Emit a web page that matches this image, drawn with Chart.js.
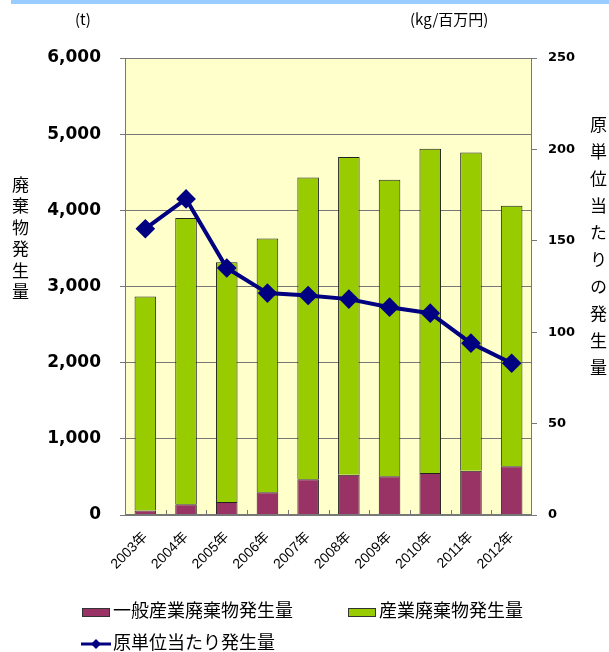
<!DOCTYPE html>
<html lang="ja">
<head>
<meta charset="utf-8">
<script src="https://cdn.jsdelivr.net/npm/chart.js@4/dist/chart.umd.min.js"></script>
<style>
  body { margin: 0; background: #fff; }
  #wrap { position: relative; width: 609px; height: 652px; font-family: "Noto Sans CJK JP", sans-serif; color: #000; }
  #chart { position: absolute; left: 0; top: 0; }
  .band { position: absolute; left: 11px; top: 0; width: 598px; height: 4px; background: #99ccff; }
  .unit { position: absolute; top: 9px; font-size: 15px; line-height: 20px; }
  .vtitle { position: absolute; writing-mode: vertical-rl; font-size: 17px; line-height: 17px; }
  .legend { position: absolute; font-size: 18px; line-height: 20px; white-space: nowrap; }
  .legend span.box { display: inline-block; width: 26px; height: 7px; border: 1px solid #333; vertical-align: middle; margin-right: 3px; }
  .legend canvas { vertical-align: middle; margin-right: 1px; }
</style>
</head>
<body>
<div id="wrap">
  <div class="band"></div>
  <canvas id="chart" width="609" height="652"></canvas>
  <div class="unit" style="left:75px">(t)</div>
  <div class="unit" style="left:410px">(kg/百万円)</div>
  <div class="vtitle" id="leftTitle" style="left:12px; top:176px; letter-spacing:4.5px"></div>
  <div class="vtitle" id="rightTitle" style="left:590px; top:116px; letter-spacing:10px"></div>
  <div class="legend" id="lg0" style="left:82px; top:599px"></div>
  <div class="legend" id="lg1" style="left:348px; top:599px"></div>
  <div class="legend" id="lg2" style="left:80px; top:631px"></div>
</div>
<script>
// 年度
const years = ['2003年', '2004年', '2005年', '2006年', '2007年', '2008年', '2009年', '2010年', '2011年', '2012年'];

// 一般産業廃棄物発生量 (t)
const generalWaste = [60, 140, 170, 300, 470, 530, 510, 550, 580, 640];

// 産業廃棄物発生量 (t)
const industrialWaste = [2810, 3760, 3150, 3330, 3960, 4170, 3890, 4260, 4180, 3420];

// 原単位当たり発生量 (kg/百万円)
const unitWaste = [156.6, 172.9, 135.1, 121.4, 120.1, 118.1, 113.7, 110.4, 94.0, 83.0];

const seriesNames = ['一般産業廃棄物発生量', '産業廃棄物発生量', '原単位当たり発生量'];
const leftAxisTitle = '廃棄物発生量';
const rightAxisTitle = '原単位当たりの発生量';

const colorGeneral = '#993366';
const colorIndustrial = '#99cc00';
const colorLine = '#000080';

// プロット領域の背景・枠線・内向きの目盛り
const plotFrame = {
  id: 'plotFrame',
  beforeDraw(chart) {
    const { ctx, chartArea: a } = chart;
    ctx.save();
    ctx.fillStyle = '#ffffcc';
    ctx.fillRect(a.left, a.top, a.width, a.height);
    ctx.restore();
  },
  afterDraw(chart) {
    const { ctx, chartArea: a } = chart;
    ctx.save();
    ctx.strokeStyle = '#777';
    ctx.lineWidth = 1;
    ctx.strokeRect(a.left + 0.5, a.top + 0.5, a.width - 1, a.height - 1);

    // 横軸: カテゴリ境界に短い目盛り
    const step = a.width / years.length;
    ctx.beginPath();
    for (let i = 1; i < years.length; i++) {
      const x = Math.round(a.left + step * i) + 0.5;
      ctx.moveTo(x, a.bottom);
      ctx.lineTo(x, a.bottom - 5);
    }
    ctx.stroke();
    ctx.restore();
  },
};

const tickFontLeft = { family: 'DejaVu Sans', size: 17, weight: 'bold' };
const tickFontRight = { family: 'DejaVu Sans', size: 13, weight: 'bold' };

new Chart(document.getElementById('chart'), {
  type: 'bar',
  data: {
    labels: years,
    datasets: [
      {
        type: 'line',
        label: seriesNames[2],
        data: unitWaste,
        yAxisID: 'y1',
        borderColor: colorLine,
        backgroundColor: colorLine,
        borderWidth: 4,
        pointStyle: 'rectRot',
        pointRadius: 7,
        pointHoverRadius: 7,
        tension: 0,
        order: 0,
      },
      {
        label: seriesNames[0],
        data: generalWaste,
        backgroundColor: colorGeneral,
        borderColor: '#222',
        borderWidth: 1,
        yAxisID: 'y',
        order: 1,
      },
      {
        label: seriesNames[1],
        data: industrialWaste,
        backgroundColor: colorIndustrial,
        borderColor: '#222',
        borderWidth: 1,
        yAxisID: 'y',
        order: 1,
      },
    ],
  },
  options: {
    responsive: false,
    animation: false,
    layout: { padding: { top: 58, left: 0, right: 0, bottom: 0 } },
    plugins: {
      legend: { display: false },
      tooltip: { enabled: false },
    },
    datasets: {
      bar: { categoryPercentage: 1.0, barPercentage: 0.53 },
    },
    scales: {
      x: {
        stacked: true,
        grid: { display: false },
        border: { display: false },
        ticks: {
          minRotation: 45,
          maxRotation: 45,
          color: '#000',
          padding: 6,
          font: { family: "'Liberation Sans', 'Noto Sans CJK JP'", size: 14 },
        },
        afterFit: (s) => { s.height = 137; },
      },
      y: {
        position: 'left',
        stacked: true,
        min: 0,
        max: 6000,
        ticks: {
          stepSize: 1000,
          color: '#000',
          padding: 19,
          font: tickFontLeft,
          callback: (v) => v.toLocaleString('en-US'),
        },
        grid: { color: '#777', tickLength: 5, tickColor: '#777' },
        border: { display: false },
        afterFit: (s) => { s.width = 125; },
      },
      y1: {
        position: 'right',
        min: 0,
        max: 250,
        ticks: { stepSize: 50, color: '#000', padding: 11, font: tickFontRight },
        grid: { drawOnChartArea: false, tickLength: 5, tickColor: '#777' },
        border: { display: false },
        afterFit: (s) => { s.width = 77; },
      },
    },
  },
  plugins: [plotFrame],
});

// 縦書きの軸タイトル
document.getElementById('leftTitle').textContent = leftAxisTitle;
document.getElementById('rightTitle').textContent = rightAxisTitle;

// 凡例
function boxLegend(id, color, text) {
  const el = document.getElementById(id);
  const box = document.createElement('span');
  box.className = 'box';
  box.style.background = color;
  el.appendChild(box);
  el.appendChild(document.createTextNode(text));
}
boxLegend('lg0', colorGeneral, seriesNames[0]);
boxLegend('lg1', colorIndustrial, seriesNames[1]);

const lg2 = document.getElementById('lg2');
const mark = document.createElement('canvas');
mark.width = 32;
mark.height = 14;
const mc = mark.getContext('2d');
mc.strokeStyle = colorLine;
mc.fillStyle = colorLine;
mc.lineWidth = 3;
mc.beginPath();
mc.moveTo(1, 7);
mc.lineTo(31, 7);
mc.stroke();
mc.beginPath();
mc.moveTo(16, 2);
mc.lineTo(21, 7);
mc.lineTo(16, 12);
mc.lineTo(11, 7);
mc.closePath();
mc.fill();
lg2.appendChild(mark);
lg2.appendChild(document.createTextNode(seriesNames[2]));
</script>
</body>
</html>
